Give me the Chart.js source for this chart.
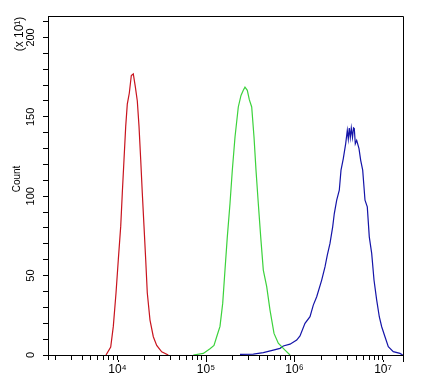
<!DOCTYPE html>
<html>
<head>
<meta charset="utf-8">
<script src="https://cdn.jsdelivr.net/npm/chart.js@4.4.1/dist/chart.umd.min.js"></script>
<style>
html,body{margin:0;padding:0;background:#fff;}
#wrap{width:421px;height:383px;}
</style>
</head>
<body>
<div id="wrap"><canvas id="c" width="421" height="383"></canvas></div>
<script>
// Tick labels
const xMajorTicks = [10000, 100000, 1000000, 10000000];
const xMajorLabels = ['10\u2074', '10\u2075', '10\u2076', '10\u2077'];
const yLabelTicks = [0, 50, 100, 150, 200];

// Red series
const redX = [7415, 8379, 8966, 9618, 10210, 10870, 11330, 11840, 12380, 12900, 13600, 14320, 15080, 15890, 16740, 17500, 18290, 19060, 19930, 20830, 21710, 23290, 25390, 27730, 31580, 37500];
const redY = [0, 5, 18, 39, 60, 81, 102, 123, 144, 158, 165, 176, 177, 169, 160, 144, 123, 102, 81, 60, 39, 22, 11.5, 6, 2, 0];

// Green series
const greenX = [71870, 93220, 111000, 123100, 132100, 143900, 154400, 163900, 174100, 186700, 198300, 212700, 231700, 248600, 263900, 275800, 292900, 308600, 328400, 348700, 367300, 389900, 415100, 444100, 485200, 528800, 586800, 656200, 781100, 889500];
const greenY = [0, 1, 4, 6, 11.5, 18, 32.5, 53.5, 74.4, 95.4, 116.4, 137.3, 156.2, 163.5, 166.7, 168.7, 166.7, 160.8, 156.2, 137.3, 116.4, 95.4, 74.4, 53.5, 43, 28.3, 13.6, 7.4, 3.1, 0];

// Blue series
const blueX = [242200, 342300, 444100, 576100, 685900, 747200, 889500, 1059000, 1154000, 1314000, 1497000, 1631000, 1782000, 2029000, 2211000, 2348000, 2518000, 2701000, 2817000, 2999000, 3208000, 3354000, 3560000, 3789000, 3951000, 4054000, 4160000, 4272000, 4383000, 4523000, 4642000, 4739000, 4864000, 5045000, 5356000, 5598000, 5897000, 6262000, 6646000, 7000000, 7452000, 7914000, 8489000, 9082000, 9667000, 10530000, 11480000, 13070000, 15560000, 16700000];
const blueY = [0.4, 0.6, 1.5, 3.1, 4.2, 5.7, 6.8, 9.4, 12, 19.9, 24.1, 31.4, 36.7, 47.2, 55.5, 62.9, 70.3, 80.7, 89.1, 97.5, 103.8, 116.4, 123.7, 133.1, 141.5, 136, 143, 137, 143, 137, 143, 142.6, 133, 135.2, 130, 122.6, 116.4, 97.5, 93.3, 74.4, 64, 47.2, 34.6, 24.1, 17.8, 11.5, 5.2, 2.1, 1, 0];

const toPts = (xs, ys) => xs.map((x, i) => ({x: x, y: ys[i]}));

const FONT = "Arial, 'Liberation Sans', sans-serif";

const framePlugin = {
  id: 'frame',
  afterDraw(chart) {
    const ctx = chart.ctx;
    const a = chart.chartArea;
    ctx.save();
    ctx.strokeStyle = '#000';
    ctx.lineWidth = 1;
    ctx.beginPath();
    ctx.moveTo(Math.round(a.left) + 0.5, Math.round(a.top) + 0.5);
    ctx.lineTo(Math.round(a.right) + 0.5, Math.round(a.top) + 0.5);
    ctx.lineTo(Math.round(a.right) + 0.5, Math.round(a.bottom) + 0.5);
    ctx.stroke();
    // longer major ticks on the x axis
    const xs = chart.scales.x;
    ctx.beginPath();
    xMajorTicks.concat([xs.max]).forEach(v => {
      const px = Math.round(xs.getPixelForValue(v)) + 0.5;
      ctx.moveTo(px, Math.round(a.bottom) + 5);
      ctx.lineTo(px, Math.round(a.bottom) + 7);
    });
    ctx.stroke();
    ctx.fillStyle = '#000';
    ctx.textAlign = 'center';
    ctx.textBaseline = 'middle';
    // Count
    ctx.save();
    ctx.translate(17, 179);
    ctx.rotate(-Math.PI / 2);
    ctx.font = '10px ' + FONT;
    ctx.fillText('Count', 0, 0);
    ctx.restore();
    // (x 10^1)
    ctx.save();
    ctx.translate(20, 34);
    ctx.rotate(-Math.PI / 2);
    ctx.font = '12px ' + FONT;
    ctx.fillText('(x 10\u00B9)', 0, 0);
    ctx.restore();
    ctx.restore();
  }
};

new Chart(document.getElementById('c'), {
  type: 'line',
  data: {
    datasets: [
      {data: toPts(redX, redY), borderColor: '#c8141e', borderWidth: 1.2, pointRadius: 0, fill: false, tension: 0},
      {data: toPts(greenX, greenY), borderColor: '#3cd23c', borderWidth: 1.2, pointRadius: 0, fill: false, tension: 0},
      {data: toPts(blueX, blueY), borderColor: '#1414a8', borderWidth: 1.2, pointRadius: 0, fill: false, tension: 0}
    ]
  },
  options: {
    responsive: false,
    animation: false,
    events: [],
    layout: {padding: {top: 16, right: 18, left: 0, bottom: 0}},
    plugins: {legend: {display: false}, tooltip: {enabled: false}, title: {display: false}},
    scales: {
      x: {
        type: 'logarithmic',
        min: 1639,
        max: 16830000,
        afterBuildTicks(scale) {
          scale.ticks = scale.ticks.filter(t => {
            const e = Math.floor(Math.log10(t.value) + 1e-9);
            const s = t.value / Math.pow(10, e);
            return Math.abs(s - 1.5) > 1e-6;
          });
        },
        afterFit(scale) { scale.height = 28; },
        grid: {drawOnChartArea: false, color: '#000', tickLength: 5},
        border: {color: '#000', width: 1},
        ticks: {
          autoSkip: false,
          maxRotation: 0,
          minRotation: 0,
          padding: 2,
          color: '#000',
          font: {family: FONT, size: 12},
          callback(v) {
            const i = xMajorTicks.findIndex(m => Math.abs(m - v) / m < 1e-9);
            return i >= 0 ? xMajorLabels[i] : '';
          }
        }
      },
      y: {
        type: 'linear',
        min: 0,
        max: 213.5,
        afterFit(scale) { scale.width = 48; },
        grid: {drawOnChartArea: false, color: '#000', tickLength: 5},
        border: {color: '#000', width: 1},
        ticks: {
          stepSize: 10,
          includeBounds: false,
          autoSkip: false,
          minRotation: 90,
          maxRotation: 90,
          crossAlign: 'center',
          padding: 3,
          color: '#000',
          font: {family: FONT, size: 11},
          callback(v) { return yLabelTicks.includes(v) ? String(v) : ''; }
        }
      }
    }
  },
  plugins: [framePlugin]
});
</script>
</body>
</html>
